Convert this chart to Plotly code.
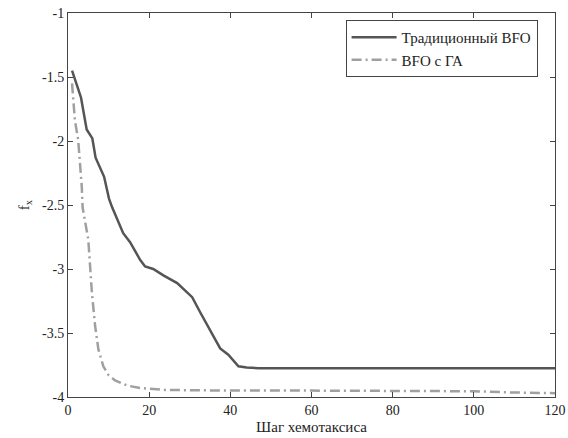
import plotly.graph_objects as go

trad_x = [1, 2, 3.2, 4.6, 6, 6.8, 8.9, 10.1, 10.9, 13.6, 14.5, 15.3, 17.8, 19, 21, 23.5, 26.9, 30.6, 32.6, 35, 37.5, 39.5, 42, 44, 47, 120]
trad_y = [-1.45, -1.55, -1.66, -1.91, -1.98, -2.13, -2.28, -2.45, -2.52, -2.72, -2.76, -2.79, -2.93, -2.98, -3.0, -3.05, -3.11, -3.22, -3.34, -3.48, -3.62, -3.67, -3.76, -3.77, -3.775, -3.775]

ga_x = [1, 1.7, 2.5, 3.4, 3.6, 5, 5.9, 6.7, 7.5, 8.7, 10, 11.6, 14.5, 17.8, 24, 40, 60, 80, 100, 110, 120]
ga_y = [-1.55, -1.84, -1.99, -2.36, -2.52, -2.77, -3.19, -3.45, -3.63, -3.76, -3.83, -3.87, -3.91, -3.93, -3.945, -3.95, -3.95, -3.95, -3.955, -3.965, -3.97]

x_ticks = [0, 20, 40, 60, 80, 100, 120]
y_ticks = [-1, -1.5, -2, -2.5, -3, -3.5, -4]
y_tick_text = ["-1", "-1.5", "-2", "-2.5", "-3", "-3.5", "-4"]

FONT = "Liberation Serif"

fig = go.Figure()
fig.add_trace(go.Scatter(x=trad_x, y=trad_y, mode="lines", name="Традиционный BFO",
                         line=dict(color="#555555", width=2.5)))
fig.add_trace(go.Scatter(x=ga_x, y=ga_y, mode="lines", name="BFO с ГА",
                         line=dict(color="#a0a0a0", width=2.5, dash="10px,4px,2px,4px")))

axis_common = dict(showgrid=False, zeroline=False, showline=True, linecolor="#444444",
                   linewidth=1, mirror="ticks", ticks="inside", ticklen=5, automargin=False,
                   tickcolor="#444444", tickfont=dict(family=FONT, size=14, color="#222222"))

fig.update_layout(
    width=568, height=438,
    margin=dict(l=68, r=13, t=13, b=41),
    paper_bgcolor="white", plot_bgcolor="white",
    font=dict(family=FONT, size=14, color="#222222"),
    xaxis=dict(range=[0, 120], tickvals=x_ticks,
               title=dict(text="Шаг хемотаксиса", standoff=4, font=dict(family=FONT, size=15)),
               **axis_common),
    yaxis=dict(range=[-4, -1], tickvals=y_ticks, ticktext=y_tick_text,
               title=dict(text="f<sub>x</sub>", standoff=8, font=dict(family=FONT, size=15)),
               **axis_common),
    legend=dict(x=0.57, y=0.982, xanchor="left", yanchor="top",
                bgcolor="white", bordercolor="#444444", borderwidth=1, itemwidth=45,
                font=dict(family=FONT, size=15), tracegroupgap=0),
    showlegend=True,
)

fig.write_html("out.html", config={"displayModeBar": False},
               post_script="document.body.style.margin='0';")
